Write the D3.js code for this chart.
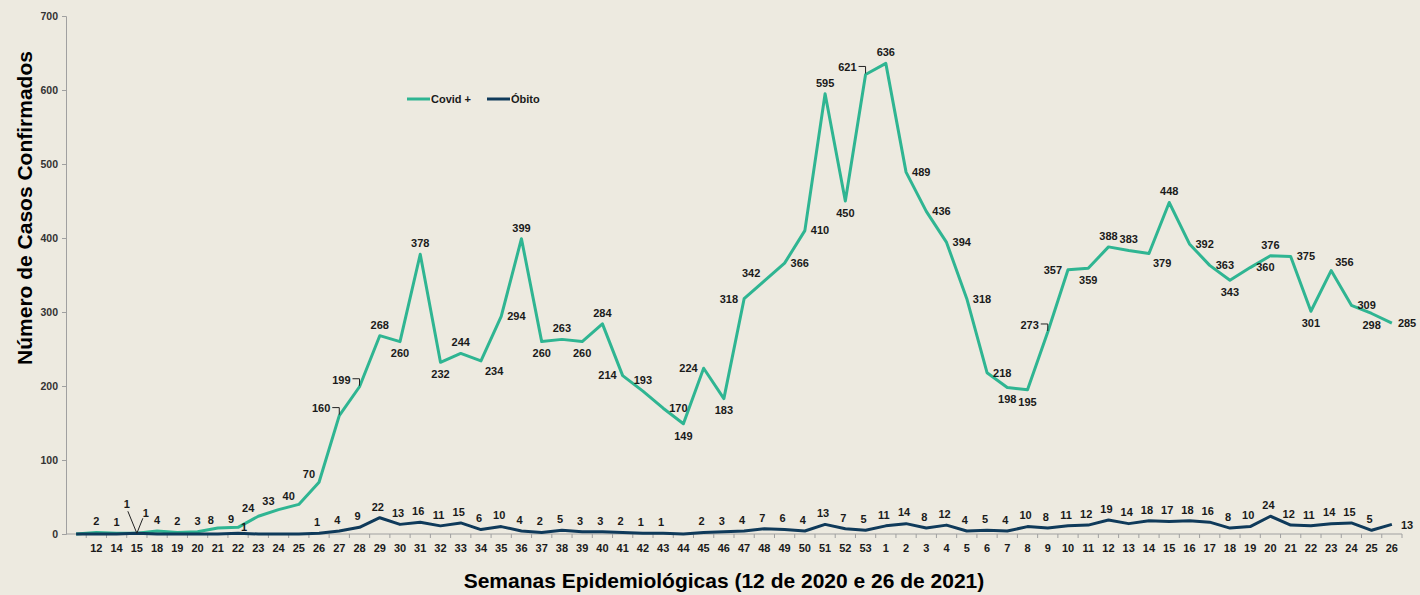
<!DOCTYPE html>
<html>
<head>
<meta charset="utf-8">
<script src="https://cdn.jsdelivr.net/npm/d3@7"></script>
<style>
  html, body { margin: 0; padding: 0; background: #edeae0; }
  svg { display: block; font-family: "Liberation Sans", Arial, sans-serif; }
  .lbl { font-size: 11px; font-weight: bold; fill: #1a1a1a; }
</style>
</head>
<body>
<svg width="1420" height="595"></svg>
<script>
// Semanas epidemiológicas (primeira categoria sem rótulo)
const weeks = ["", "12", "14", "15"]
    .concat(d3.range(18, 54).map(String))
    .concat(d3.range(1, 27).map(String));

const covid = [0, 2, 1, 1,
    4, 2, 3, 8, 9, 24, 33, 40, 70, 160, 199, 268, 260, 378, 232, 244, 234, 294,
    399, 260, 263, 260, 284, 214, 193, 170, 149, 224, 183, 318, 342, 366, 410, 595, 450, 621,
    636, 489, 436, 394, 318, 218, 198, 195, 273, 357, 359, 388, 383, 379, 448, 392, 363,
    343, 360, 376, 375, 301, 356, 309, 298, 285];

const obito = [0, 0, 0, 1,
    0, 0, 0, 0, 1, 0, 0, 0, 1, 4, 9, 22, 13, 16, 11, 15, 6, 10,
    4, 2, 5, 3, 3, 2, 1, 1, 0, 2, 3, 4, 7, 6, 4, 13, 7, 5,
    11, 14, 8, 12, 4, 5, 4, 10, 8, 11, 12, 19, 14, 18, 17, 18, 16,
    8, 10, 24, 12, 11, 14, 15, 5, 13];

const yTicks = [0, 100, 200, 300, 400, 500, 600, 700];

// where each covid label sits around its point
const covidPos = ["", "t", "t", "lead",
    "t", "t", "t", "tl", "tl", "tl", "tl", "tl", "tl", "ll", "ll", "t", "b", "t", "b", "t", "br", "r",
    "t", "b", "t", "b", "t", "l", "t", "r", "b", "l", "b", "l", "tl", "r", "r", "t", "b", "ll",
    "t", "r", "r", "r", "r", "r", "b", "b", "ll", "l", "b", "t", "t", "br", "t", "r", "r",
    "b", "r", "t", "r", "b", "tr", "r", "b", "r"];

const green = "#2fb592";
const navy = "#0f3a5a";

const margin = { top: 16, left: 66, right: 18, bottom: 61 };
const W = 1420, H = 595;

const svg = d3.select("svg");

const x = d3.scaleBand().domain(d3.range(weeks.length)).range([margin.left, W - margin.right]);
const y = d3.scaleLinear().domain([0, 700]).range([H - margin.bottom, margin.top]);
const cx = i => x(i) + x.bandwidth() / 2;
const y0 = y(0);

// y axis
const yAxis = d3.axisLeft(y).tickValues(yTicks).tickSize(4).tickPadding(4);
const gy = svg.append("g").attr("transform", "translate(" + margin.left + ",0)").call(yAxis);
gy.selectAll("path, line").attr("stroke", "#a0a0a0");
gy.selectAll("text").attr("font-size", 10.5).attr("font-weight", "bold").attr("fill", "#333")
    .attr("font-family", "Liberation Sans, Arial, sans-serif");

// x axis: labels in the middle, ticks on band edges
svg.append("line")
    .attr("x1", margin.left).attr("x2", W - margin.right)
    .attr("y1", y0).attr("y2", y0)
    .attr("stroke", "#a0a0a0");
svg.append("g").selectAll("line")
    .data(d3.range(1, weeks.length + 1)).enter()
    .append("line")
    .attr("x1", i => x(i - 1) + x.bandwidth()).attr("x2", i => x(i - 1) + x.bandwidth())
    .attr("y1", y0).attr("y2", y0 + 4)
    .attr("stroke", "#a0a0a0");
svg.append("g").selectAll("text")
    .data(weeks).enter()
    .append("text")
    .attr("class", "lbl")
    .attr("x", (d, i) => cx(i))
    .attr("y", y0 + 18)
    .attr("text-anchor", "middle")
    .attr("font-size", 11.5)
    .text(d => d);

// lines
const line = d3.line().x((d, i) => cx(i)).y(d => y(d));
svg.append("path").datum(covid)
    .attr("fill", "none").attr("stroke", green).attr("stroke-width", 3)
    .attr("stroke-linejoin", "round").attr("d", line);
svg.append("path").datum(obito)
    .attr("fill", "none").attr("stroke", navy).attr("stroke-width", 3)
    .attr("stroke-linejoin", "round").attr("d", line);

// covid labels
const offs = {
    t: [0, -11, "middle"], b: [0, 12, "middle"],
    l: [-6, 0, "end"], r: [6, 0, "start"],
    tl: [-4, -8, "end"], tr: [4, -8, "start"],
    br: [4, 10, "start"], ll: [-9, -7, "end"],
    lead: [-10, -29, "middle"]
};
const gl = svg.append("g");
covid.forEach((v, i) => {
    if (!v) return;
    const o = offs[covidPos[i]];
    const px = cx(i), py = y(v);
    gl.append("text").attr("class", "lbl")
        .attr("x", px + o[0]).attr("y", py + o[1])
        .attr("dy", "0.35em")
        .attr("text-anchor", o[2])
        .text(v);
    if (covidPos[i] === "ll") {
        gl.append("path")
            .attr("d", "M" + (px - 7) + "," + (py - 8) + "H" + px + "V" + (py - 1))
            .attr("fill", "none").attr("stroke", "#222").attr("stroke-width", 1);
    }
    if (covidPos[i] === "lead") {
        gl.append("line")
            .attr("x1", px - 9).attr("y1", py - 22).attr("x2", px).attr("y2", py)
            .attr("stroke", "#222").attr("stroke-width", 1);
    }
});

// obito labels (index 3 has a leader, index 8 sits low on the right, last one at right)
obito.forEach((v, i) => {
    if (!v) return;
    const px = cx(i), py = y(v);
    const last = i === obito.length - 1;
    const lead = i === 3;
    const low = i === 8;
    let lx = px - 2, ly = py - 11, anchor = "middle";
    if (last) { lx = px + 9; ly = py + 1; anchor = "start"; }
    if (lead) { lx = px + 9; ly = py - 20; }
    if (low) { lx = px + 6; ly = py - 6; }
    gl.append("text").attr("class", "lbl")
        .attr("x", lx).attr("y", ly)
        .attr("dy", "0.35em")
        .attr("text-anchor", anchor)
        .text(v);
    if (lead) {
        gl.append("line")
            .attr("x1", px + 6).attr("y1", py - 15).attr("x2", px).attr("y2", py)
            .attr("stroke", "#222").attr("stroke-width", 1);
    }
});

// legend
const legend = [["Covid +", green, 407], ["Óbito", navy, 487]];
legend.forEach(l => {
    svg.append("line").attr("x1", l[2]).attr("x2", l[2] + 23)
        .attr("y1", 99).attr("y2", 99)
        .attr("stroke", l[1]).attr("stroke-width", 3);
    svg.append("text").attr("class", "lbl")
        .attr("x", l[2] + 24).attr("y", 99).attr("dy", "0.35em")
        .text(l[0]);
});

// titles
svg.append("text")
    .attr("transform", "translate(32,208) rotate(-90)")
    .attr("text-anchor", "middle")
    .attr("font-size", 21).attr("font-weight", "bold").attr("fill", "#000")
    .text("Número de Casos Confirmados");
svg.append("text")
    .attr("x", 724).attr("y", 588)
    .attr("text-anchor", "middle")
    .attr("font-size", 21).attr("font-weight", "bold").attr("fill", "#000")
    .text("Semanas Epidemiológicas (12 de 2020 e 26 de 2021)");
</script>
</body>
</html>
